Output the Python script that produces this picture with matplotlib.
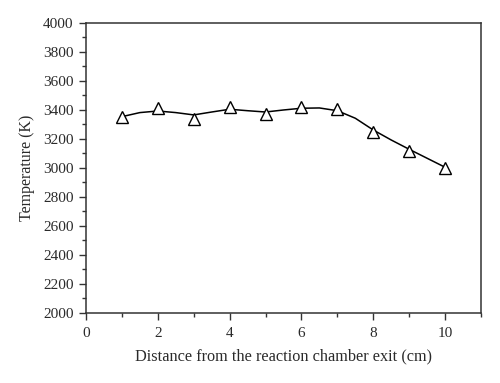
import matplotlib
matplotlib.use("Agg")
import matplotlib.pyplot as plt
from matplotlib.ticker import MultipleLocator

# measured points
distance = [1, 2, 3, 4, 5, 6, 7, 8, 9, 10]
temperature = [3355, 3415, 3340, 3420, 3370, 3420, 3405, 3246, 3120, 3000]

# smooth trend curve, every 0.5 cm
curve_x = [1, 1.5, 2, 2.5, 3, 3.5, 4, 4.5, 5, 5.5, 6, 6.5, 7, 7.5, 8, 8.5, 9, 9.5, 10]
curve_t = [3354, 3382, 3393, 3382, 3366, 3386, 3405, 3395, 3386, 3400, 3412, 3414, 3395, 3343,
           3262, 3193, 3129, 3067, 3005]

plt.rcParams['font.family'] = ['Liberation Serif', 'DejaVu Serif']
txt = '#2a2a2a'

fig = plt.figure(figsize=(5, 3.83), dpi=100)
ax = fig.add_axes([0.172, 0.1828, 0.79, 0.7572])

ax.plot(curve_x, curve_t, color='black', lw=1.1, solid_joinstyle='round')
ax.plot(distance, temperature, ls='none', marker='^', ms=8, mfc='white', mec='black', mew=1.0)

ax.set_xlim(0, 11)
ax.set_ylim(2000, 4000)
ax.xaxis.set_major_locator(MultipleLocator(2))
ax.xaxis.set_minor_locator(MultipleLocator(1))
ax.yaxis.set_major_locator(MultipleLocator(200))
ax.yaxis.set_minor_locator(MultipleLocator(100))
ax.tick_params(which='major', direction='out', length=5, width=1, labelsize=11,
               color='#333333', labelcolor=txt)
ax.tick_params(which='minor', direction='out', length=3, width=1, color='#333333')
ax.tick_params(axis='x', pad=5)
ax.tick_params(axis='y', pad=4)
for s in ax.spines.values():
    s.set_color('#333333')
    s.set_linewidth(1.1)

ax.set_xlabel('Distance from the reaction chamber exit (cm)', fontsize=11.7, labelpad=6, color=txt)
ax.set_ylabel('Temperature (K)', fontsize=11.5, labelpad=6, color=txt)

fig.savefig('out.png', dpi=100)
